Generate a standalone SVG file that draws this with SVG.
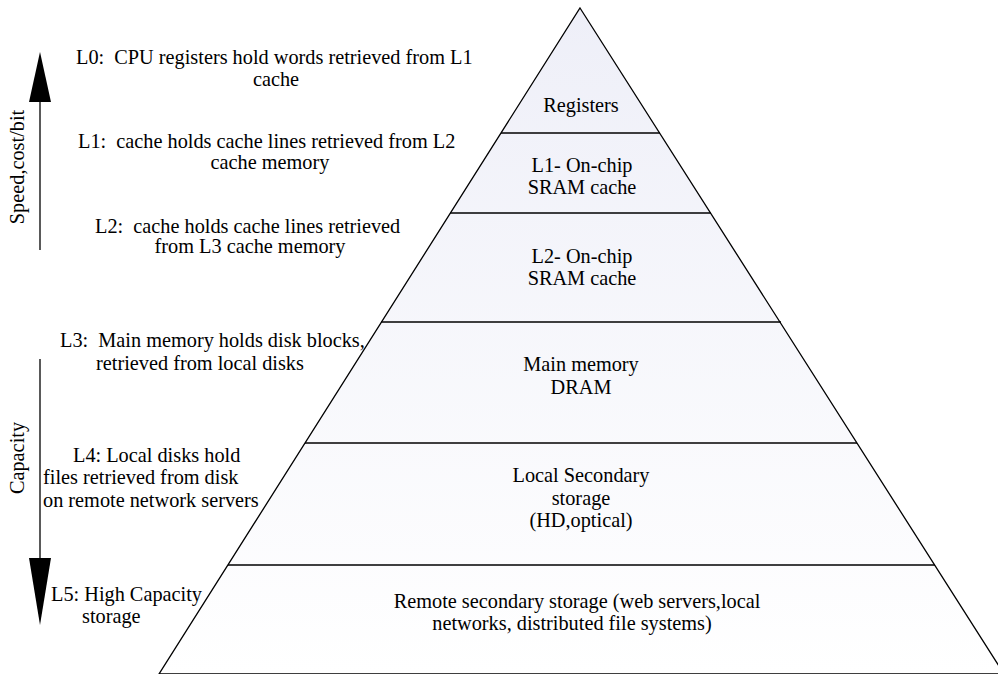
<svg xmlns="http://www.w3.org/2000/svg" width="998" height="674" viewBox="0 0 998 674">
<style>
text{font-size:20.3px;fill:#000}
.c{text-anchor:middle}
.ln{stroke:#000;stroke-width:1.3;fill:none}
.ax{stroke:#000;stroke-width:1.3}
</style>
<defs>
<linearGradient id="g" x1="0" y1="0" x2="0" y2="1">
<stop offset="0" stop-color="#eeeff8"/>
<stop offset="1" stop-color="#ffffff"/>
</linearGradient>
</defs>
<rect width="998" height="674" fill="#fff"/>
<g id="pyramid">
<polygon points="580,8 1004,674 159,674" fill="url(#g)" stroke="#000" stroke-width="1.3"/>
</g>
<g id="levels">
<line class="ln" x1="501" y1="133" x2="660" y2="133"/>
<line class="ln" x1="450" y1="213" x2="711" y2="213"/>
<line class="ln" x1="381" y1="322" x2="781" y2="322"/>
<line class="ln" x1="305" y1="443" x2="857" y2="443"/>
<line class="ln" x1="228" y1="565" x2="935" y2="565" stroke-width="2"/>
</g>
<g font-family="'Liberation Serif', 'Times New Roman', serif">
<g id="registers"><text class="c" x="581" y="112">Registers</text></g>
<g id="l1"><text class="c" x="582" y="172">L1- On-chip</text><text class="c" x="582" y="194">SRAM cache</text></g>
<g id="l2"><text class="c" x="582" y="263">L2- On-chip</text><text class="c" x="582" y="285">SRAM cache</text></g>
<g id="main"><text class="c" x="581" y="371">Main memory</text><text class="c" x="581" y="394">DRAM</text></g>
<g id="local"><text class="c" x="581" y="482">Local Secondary</text><text class="c" x="581" y="505">storage</text><text class="c" x="581" y="527">(HD,optical)</text></g>
<g id="remote"><text class="c" x="577" y="608">Remote secondary storage (web servers,local</text><text class="c" x="572" y="630">networks, distributed file systems)</text></g>
<g id="desc">
<text x="76" y="64" xml:space="preserve">L0:  CPU registers hold words retrieved from L1</text>
<text class="c" x="276" y="86">cache</text>
<text x="78" y="148" xml:space="preserve">L1:  cache holds cache lines retrieved from L2</text>
<text class="c" x="270" y="169">cache memory</text>
<text x="95" y="233" xml:space="preserve">L2:  cache holds cache lines retrieved</text>
<text class="c" x="250" y="253">from L3 cache memory</text>
<text x="60" y="347" xml:space="preserve">L3:  Main memory holds disk blocks,</text>
<text class="c" x="200" y="370">retrieved from local disks</text>
<text x="73" y="462">L4: Local disks hold</text>
<text x="43" y="484">files retrieved from disk</text>
<text x="43" y="507">on remote network servers</text>
<text x="51" y="601">L5: High Capacity</text>
<text x="82" y="623">storage</text>
</g>
<g id="axes">
<line class="ax" x1="40" y1="100" x2="40" y2="250"/>
<polygon points="40,52 51,102 29,102" fill="#000"/>
<line class="ax" x1="40" y1="359" x2="40" y2="560"/>
<polygon points="40,625 51,558 29,558" fill="#000"/>
<text class="c" transform="translate(24,167) rotate(-90)">Speed,cost/bit</text>
<text class="c" transform="translate(24,458) rotate(-90)">Capacity</text>
</g>
</g>
</svg>
